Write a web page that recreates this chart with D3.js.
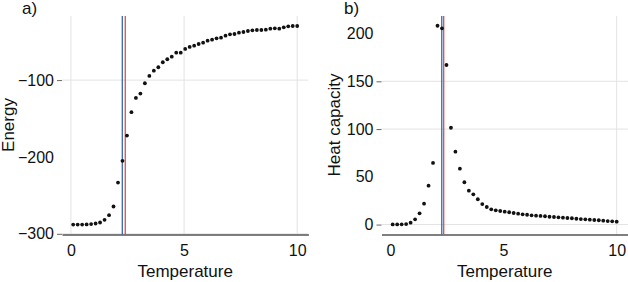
<!DOCTYPE html>
<html><head><meta charset="utf-8">
<script src="https://cdn.jsdelivr.net/npm/d3@7"></script>
<style>body{margin:0;background:#fff}text{font-family:"Liberation Sans",Arial,sans-serif}</style>
</head><body><svg id="c" width="628" height="282"></svg>
<script>
const temps = [0.100,0.298,0.496,0.694,0.892,1.090,1.288,1.486,1.684,1.882,2.080,2.278,2.476,2.674,2.872,3.070,3.268,3.466,3.664,3.862,4.060,4.258,4.456,4.654,4.852,5.050,5.248,5.446,5.644,5.842,6.040,6.238,6.436,6.634,6.832,7.030,7.228,7.426,7.624,7.822,8.020,8.218,8.416,8.614,8.812,9.010,9.208,9.406,9.604,9.802,10.000];
const energy = [-288,-288,-288,-287.8,-287.4,-286.6,-285.3,-281.8,-275.7,-264.5,-233.3,-205.1,-172.2,-141.8,-123.2,-117.6,-104.1,-94.6,-87.7,-83.3,-76.8,-72.9,-69.5,-64.3,-64.3,-59.5,-56.9,-55.2,-53.0,-51.3,-48.7,-47.4,-45.6,-44.8,-42.2,-40.4,-40.0,-38.3,-37.4,-36.1,-35.2,-34.8,-34.8,-34.4,-33.1,-32.6,-33.1,-31.3,-30.0,-29.6,-29.6];
const heatCap = [0.1,0.2,0.3,0.5,2.0,5.5,11.8,21.9,40.7,64.5,208.2,205.5,167.1,101.4,76.3,58.5,44.3,35.5,31.7,26.5,21.5,18.4,16.0,14.9,14.2,13.5,12.9,12.1,11.4,10.7,10.3,9.7,9.3,9.0,8.7,8.2,7.9,7.6,7.2,6.9,6.6,6.1,5.8,5.5,5.1,4.8,4.5,4.1,3.7,3.4,3.0];
const xTicks = [0, 5, 10];
const yTicksA = [-300, -200, -100];
const yTicksB = [0, 50, 100, 150, 200];
const gridXA = [0, 5, 10], gridYA = [-300, -100];
const gridXB = [10], gridYB = [0, 100, 150];
const tcExact = 2.269;
const tcEstA = 2.40, tcEstB = 2.355;

const svg = d3.select("#c");
const pTop = 16, pBottom = 234.5, pWidth = 246.4;

function panel(o) {
  const x = d3.scaleLinear().domain([-0.395, 10.495]).range([o.left, o.left + pWidth]);
  const y = d3.scaleLinear().domain(o.ydom).range([pBottom, pTop]);
  const g = svg.append("g");
  g.selectAll(".gx").data(o.gridX).enter().append("line")
    .attr("x1", d => x(d)).attr("x2", d => x(d)).attr("y1", pTop).attr("y2", pBottom)
    .attr("stroke", "#e3e3e3").attr("stroke-width", 1);
  g.selectAll(".gy").data(o.gridY).enter().append("line")
    .attr("x1", o.left).attr("x2", o.left + pWidth).attr("y1", d => y(d)).attr("y2", d => y(d))
    .attr("stroke", "#e3e3e3").attr("stroke-width", 1);
  const ya = g.append("g").attr("transform", `translate(${o.left},0)`)
    .call(d3.axisLeft(y).tickValues(o.yTicks).tickSize(5).tickPadding(3).tickFormat(d3.format("d")));
  ya.select(".domain").remove();
  ya.selectAll(".tick line").attr("stroke", "#666").attr("opacity", d => o.gridY.includes(d) ? 1 : 0);
  ya.selectAll(".tick text").attr("font-size", 16).attr("fill", "#111")
    .attr("font-family", '"Liberation Sans",Arial,sans-serif');
  const xa = g.append("g").attr("transform", `translate(0,${pBottom})`)
    .call(d3.axisBottom(x).tickValues(xTicks).tickSize(0).tickPadding(10).tickFormat(d3.format("d")));
  xa.select(".domain").attr("stroke", "#000").attr("stroke-width", 1.2);
  xa.selectAll(".tick text").attr("font-size", 16).attr("fill", "#111")
    .attr("font-family", '"Liberation Sans",Arial,sans-serif');
  g.append("line").attr("x1", x(tcExact)).attr("x2", x(tcExact)).attr("y1", pTop).attr("y2", pBottom)
    .attr("stroke", "#1f5cb8").attr("stroke-width", 1.2);
  g.append("line").attr("x1", x(o.tcEst)).attr("x2", x(o.tcEst)).attr("y1", pTop).attr("y2", pBottom)
    .attr("stroke", "#e0412c").attr("stroke-width", 1.2);
  g.selectAll("circle").data(temps.map((t, i) => [t, o.vals[i]])).enter().append("circle")
    .attr("cx", d => x(d[0])).attr("cy", d => y(d[1])).attr("r", 1.9).attr("fill", "#111");
  g.append("text").attr("x", o.left + pWidth / 2).attr("y", 277).attr("text-anchor", "middle")
    .attr("font-size", 17).attr("fill", "#111").text("Temperature");
  g.append("text").attr("transform", `translate(${o.ylabX},125) rotate(-90)`).attr("text-anchor", "middle")
    .attr("font-size", 17).attr("fill", "#111").text(o.ylab);
  g.append("text").attr("x", o.tagX).attr("y", 14).attr("font-size", 17).attr("fill", "#111").text(o.tag);
}

panel({left: 62, ydom: [-300.9, -16.6], vals: energy, yTicks: yTicksA, gridX: gridXA, gridY: gridYA,
  tcEst: tcEstA, ylab: "Energy", ylabX: 14, tag: "a)", tagX: 22});
panel({left: 381.5, ydom: [-10.4, 218.4], vals: heatCap, yTicks: yTicksB, gridX: gridXB, gridY: gridYB,
  tcEst: tcEstB, ylab: "Heat capacity", ylabX: 340, tag: "b)", tagX: 344});
</script></body></html>
